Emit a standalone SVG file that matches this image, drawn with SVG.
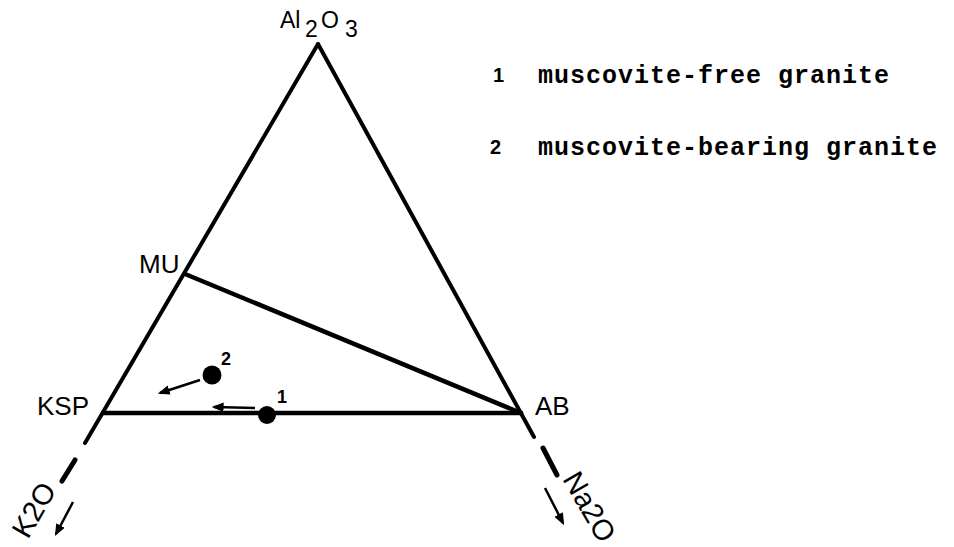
<svg xmlns="http://www.w3.org/2000/svg" width="954" height="547" viewBox="0 0 954 547">
<style>
.ln{stroke:#000;stroke-linecap:round;fill:none}
.ar{stroke:#000;stroke-width:2.5;fill:none}
.lbl{font-family:"Liberation Sans",Arial,sans-serif;fill:#000}
.leg{font-family:"Liberation Mono","Courier New",monospace;font-weight:bold;font-size:25px;letter-spacing:1px;fill:#000}
.num{font-family:"Liberation Sans",Arial,sans-serif;font-weight:bold;fill:#000}
</style>
<defs>
<marker id="ah" viewBox="0 0 10 10" refX="8" refY="5" markerWidth="12" markerHeight="12" orient="auto" markerUnits="userSpaceOnUse">
<path d="M0,1 L10,5 L0,9 Z" fill="#000"/>
</marker>
</defs>
<rect width="954" height="547" fill="#fff"/>
<g id="connectors">
<line class="ln" x1="318" y1="44" x2="85" y2="443" stroke-width="4"/>
<line class="ln" x1="318" y1="44" x2="534" y2="437" stroke-width="4"/>
<line class="ln" x1="103" y1="413" x2="521" y2="413" stroke-width="4.5"/>
<line class="ln" x1="185" y1="274" x2="521" y2="413" stroke-width="4.5"/>
<line class="ln" x1="75" y1="460" x2="62" y2="481" stroke-width="5"/>
<line class="ln" x1="543" y1="448" x2="557" y2="475" stroke-width="5"/>
<line class="ar" x1="73" y1="502" x2="56" y2="534" marker-end="url(#ah)"/>
<line class="ar" x1="545" y1="488" x2="563" y2="523" marker-end="url(#ah)"/>
<line class="ar" x1="200" y1="380" x2="160" y2="393" marker-end="url(#ah)"/>
<line class="ar" x1="255" y1="408" x2="214" y2="407" marker-end="url(#ah)"/>
</g>
<g id="Al2O3">
<text class="lbl" font-size="23" x="280" y="28">Al</text>
<text class="lbl" font-size="23" x="305" y="37">2</text>
<text class="lbl" font-size="23" x="321" y="28">O</text>
<text class="lbl" font-size="23" x="345" y="37">3</text>
</g>
<g id="MU"><text class="lbl" font-size="26" x="139" y="273">MU</text></g>
<g id="KSP"><text class="lbl" font-size="26" x="37" y="415">KSP</text></g>
<g id="AB"><text class="lbl" font-size="26" x="535" y="415">AB</text></g>
<g id="K2O"><text class="lbl" font-size="29" transform="translate(28,540) rotate(-60)">K2O</text></g>
<g id="Na2O"><text class="lbl" font-size="29" transform="translate(562,479) rotate(60)">Na2O</text></g>
<g id="point2">
<circle cx="212" cy="375" r="9.5" fill="#000"/>
<text class="num" font-size="18" x="221" y="365">2</text>
</g>
<g id="point1">
<circle cx="267" cy="415" r="9" fill="#000"/>
<text class="num" font-size="18" x="277" y="403">1</text>
</g>
<g id="legend">
<text class="num" font-size="20" x="493" y="82">1</text>
<text class="leg" x="538" y="83">muscovite-free granite</text>
<text class="num" font-size="20" x="490" y="154">2</text>
<text class="leg" x="538" y="155">muscovite-bearing granite</text>
</g>
</svg>
